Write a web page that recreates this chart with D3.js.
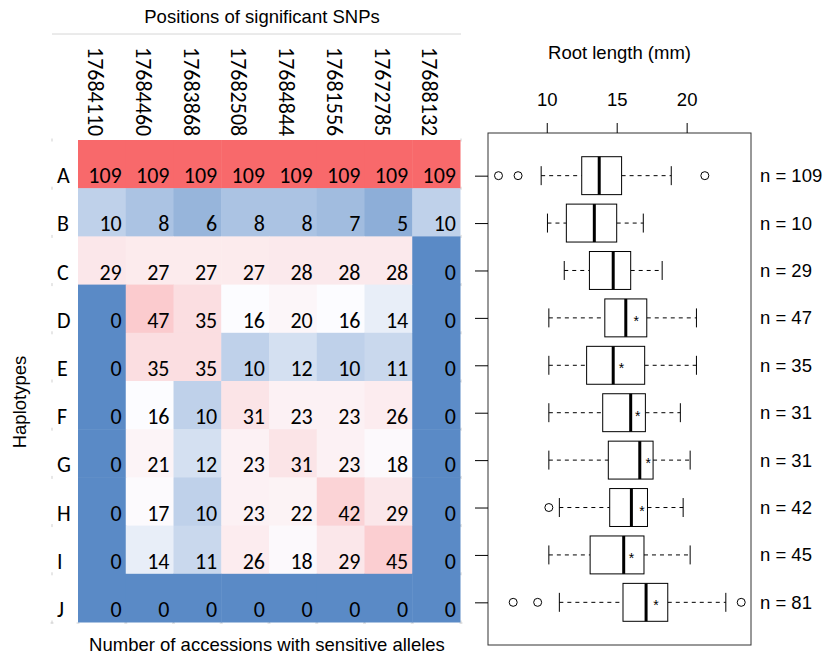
<!DOCTYPE html>
<html>
<head>
<meta charset="utf-8">
<script src="https://cdn.jsdelivr.net/npm/d3@7"></script>
<style>
  body { margin: 0; background: #fff; }
  .arial { font-family: "Liberation Sans", Arial, sans-serif; font-size: 18.5px; fill: #000; }
  .calib { font-family: Carlito, Lato, "Open Sans", sans-serif; font-size: 22px; fill: #000; }
</style>
</head>
<body>
<div class="fig"></div>
<script>
// heatmap data
var haplotypes = ["A","B","C","D","E","F","G","H","I","J"];
var snps = ["17684110","17684460","17683868","17682508","17684844","17681556","17672785","17688132"];
var counts = [
  [109,109,109,109,109,109,109,109],
  [10,8,6,8,8,7,5,10],
  [29,27,27,27,28,28,28,0],
  [0,47,35,16,20,16,14,0],
  [0,35,35,10,12,10,11,0],
  [0,16,10,31,23,23,26,0],
  [0,21,12,23,31,23,18,0],
  [0,17,10,23,22,42,29,0],
  [0,14,11,26,18,29,45,0],
  [0,0,0,0,0,0,0,0]
];

// boxplot stats (root length, mm), one per haplotype
var nAcc     = [109,10,29,47,35,31,31,42,45,81];
var whiskLo  = [9.6,10.05,11.25,10.15,10.15,10.15,10.15,10.9,10.15,10.9];
var q1       = [12.5,11.4,13.05,14.15,12.85,14.0,14.4,14.5,13.1,15.45];
var medians  = [13.75,13.4,14.75,15.65,14.75,16.0,16.65,16.05,15.5,17.1];
var q3       = [15.35,15.0,16.0,17.15,17.0,17.05,17.6,17.2,16.95,18.65];
var whiskHi  = [18.9,16.9,18.25,20.7,20.7,19.55,20.25,19.75,20.25,22.8];
var means    = [null,null,null,16.4,15.35,16.5,17.25,16.8,16.05,17.8];
var outliers = [[6.55,7.95,21.3],[],[],[],[],[],[],[10.15],[],[7.6,9.35,23.9]];
var xTicks   = [10,15,20];

var width = 824, height = 656;

var svg = d3.select(".fig").append("svg")
  .attr("width", width)
  .attr("height", height);

/* ---------- heatmap ---------- */
var hx = d3.scaleBand().domain(snps).range([78, 460]);
var hy = d3.scaleBand().domain(haplotypes).range([140, 622]);

var flat = [];
counts.forEach(function(row, i){
  row.forEach(function(v, j){ flat.push({h: haplotypes[i], s: snps[j], v: v}); });
});
var vals = flat.map(function(d){ return d.v; }).sort(d3.ascending);
var color = d3.scaleLinear()
  .domain([d3.min(vals), d3.quantile(vals, 0.5), d3.max(vals)])
  .range(["#5A8AC6", "#FCFCFF", "#F8696B"]);

// faint sheet gridline bits
svg.append("line")
  .attr("x1", 52).attr("x2", 461).attr("y1", 34).attr("y2", 34)
  .attr("stroke", "#d6d6d6");
var rowEdges = haplotypes.map(function(h){ return hy(h); }).concat([hy.range()[1]]);
rowEdges.forEach(function(y){
  [52, 461].forEach(function(x){
    svg.append("line").attr("x1", x).attr("x2", x).attr("y1", y - 1.5).attr("y2", y + 1.5)
      .attr("stroke", "#cfcfcf");
  });
});
var colEdges = [52].concat(snps.map(function(s){ return hx(s); }), [461]);
colEdges.forEach(function(x){
  svg.append("line").attr("x1", x - 1.5).attr("x2", x + 1.5).attr("y1", 623).attr("y2", 623)
    .attr("stroke", "#cfcfcf");
});

svg.selectAll("rect.cell")
  .data(flat)
  .enter()
  .append("rect")
  .attr("class", "cell")
  .attr("x", function(d){ return hx(d.s); })
  .attr("y", function(d){ return hy(d.h); })
  .attr("width", hx.bandwidth() + 0.5)
  .attr("height", hy.bandwidth() + 0.5)
  .attr("fill", function(d){ return color(d.v); });

svg.selectAll("text.val")
  .data(flat)
  .enter()
  .append("text")
  .attr("class", "calib")
  .attr("text-anchor", "end")
  .attr("x", function(d){ return hx(d.s) + hx.bandwidth() - 4; })
  .attr("y", function(d){ return hy(d.h) + hy.bandwidth() - 5; })
  .text(function(d){ return d.v; });

// row letters
svg.selectAll("text.rowlab")
  .data(haplotypes)
  .enter()
  .append("text")
  .attr("class", "calib")
  .attr("x", 57)
  .attr("y", function(d){ return hy(d) + hy.bandwidth() - 5; })
  .text(function(d){ return d; });

// snp positions, vertical
svg.selectAll("text.collab")
  .data(snps)
  .enter()
  .append("text")
  .attr("class", "calib")
  .attr("transform", function(d){ return "translate(" + (hx(d) + 10) + ",47) rotate(90)"; })
  .text(function(d){ return d; });

svg.append("text").attr("class", "arial")
  .attr("x", 262).attr("y", 23).attr("text-anchor", "middle")
  .text("Positions of significant SNPs");

svg.append("text").attr("class", "arial")
  .attr("x", 267).attr("y", 651).attr("text-anchor", "middle")
  .text("Number of accessions with sensitive alleles");

svg.append("text").attr("class", "arial")
  .attr("transform", "translate(26,402) rotate(-90)")
  .attr("text-anchor", "middle")
  .text("Haplotypes");

/* ---------- boxplot ---------- */
var bx = d3.scaleLinear().domain([5.8, 24.6]).range([488, 751]);
var by = d3.scaleLinear().domain([0.1, 10.9]).range([133, 645]);
var half = (by(1) - by(0)) * 0.4;

var boxes = haplotypes.map(function(h, i){
  return {pos: i + 1, lo: whiskLo[i], q1: q1[i], med: medians[i], q3: q3[i],
          hi: whiskHi[i], mean: means[i], out: outliers[i], n: nAcc[i]};
});

var g = svg.append("g");

// whiskers
g.selectAll("line.wl").data(boxes).enter().append("line")
  .attr("x1", function(d){ return bx(d.lo); }).attr("x2", function(d){ return bx(d.q1); })
  .attr("y1", function(d){ return by(d.pos); }).attr("y2", function(d){ return by(d.pos); })
  .attr("stroke", "#000").attr("stroke-dasharray", "4,4");
g.selectAll("line.wh").data(boxes).enter().append("line")
  .attr("x1", function(d){ return bx(d.q3); }).attr("x2", function(d){ return bx(d.hi); })
  .attr("y1", function(d){ return by(d.pos); }).attr("y2", function(d){ return by(d.pos); })
  .attr("stroke", "#000").attr("stroke-dasharray", "4,4");

// staples
["lo", "hi"].forEach(function(k){
  g.selectAll("line.st" + k).data(boxes).enter().append("line")
    .attr("x1", function(d){ return bx(d[k]); }).attr("x2", function(d){ return bx(d[k]); })
    .attr("y1", function(d){ return by(d.pos) - half / 2; })
    .attr("y2", function(d){ return by(d.pos) + half / 2; })
    .attr("stroke", "#000");
});

// boxes
g.selectAll("rect.box").data(boxes).enter().append("rect")
  .attr("x", function(d){ return bx(d.q1); })
  .attr("y", function(d){ return by(d.pos) - half; })
  .attr("width", function(d){ return bx(d.q3) - bx(d.q1); })
  .attr("height", half * 2)
  .attr("fill", "#fff").attr("stroke", "#000");

// medians
g.selectAll("line.med").data(boxes).enter().append("line")
  .attr("x1", function(d){ return bx(d.med); }).attr("x2", function(d){ return bx(d.med); })
  .attr("y1", function(d){ return by(d.pos) - half; })
  .attr("y2", function(d){ return by(d.pos) + half; })
  .attr("stroke", "#000").attr("stroke-width", 3);

// means as stars
g.selectAll("text.mean").data(boxes.filter(function(d){ return d.mean != null; })).enter().append("text")
  .attr("x", function(d){ return bx(d.mean); })
  .attr("y", function(d){ return by(d.pos) + 8; })
  .attr("text-anchor", "middle")
  .style("font-family", "'Liberation Sans', Arial, sans-serif")
  .style("font-size", "14px")
  .text("*");

// outliers
var outs = [];
boxes.forEach(function(d){ d.out.forEach(function(v){ outs.push({pos: d.pos, v: v}); }); });
g.selectAll("circle.out").data(outs).enter().append("circle")
  .attr("cx", function(d){ return bx(d.v); })
  .attr("cy", function(d){ return by(d.pos); })
  .attr("r", 4)
  .attr("fill", "none").attr("stroke", "#000");

// frame
svg.append("rect")
  .attr("x", bx.range()[0]).attr("y", by.range()[0])
  .attr("width", bx.range()[1] - bx.range()[0])
  .attr("height", by.range()[1] - by.range()[0])
  .attr("fill", "none").attr("stroke", "#333");

// axes
var xAxis = svg.append("g")
  .attr("transform", "translate(0," + by.range()[0] + ")")
  .call(d3.axisTop(bx).tickValues(xTicks).tickSize(10).tickPadding(17));
xAxis.select(".domain").remove();
xAxis.selectAll("text").attr("class", "arial").style("font-size", "18.5px").attr("fill", "#000");
xAxis.selectAll("line").attr("stroke", "#000");

var yAxis = svg.append("g")
  .attr("transform", "translate(" + bx.range()[0] + ",0)")
  .call(d3.axisLeft(by).tickValues(d3.range(1, 11)).tickSize(13).tickFormat(""));
yAxis.select(".domain").remove();
yAxis.selectAll("line").attr("stroke", "#000");

svg.append("text").attr("class", "arial")
  .attr("x", (bx.range()[0] + bx.range()[1]) / 2).attr("y", 58.5)
  .attr("text-anchor", "middle")
  .text("Root length (mm)");

svg.selectAll("text.n").data(boxes).enter().append("text")
  .attr("class", "arial")
  .attr("x", 760)
  .attr("y", function(d){ return by(d.pos) + 6.5; })
  .text(function(d){ return "n = " + d.n; });
</script>
</body>
</html>
